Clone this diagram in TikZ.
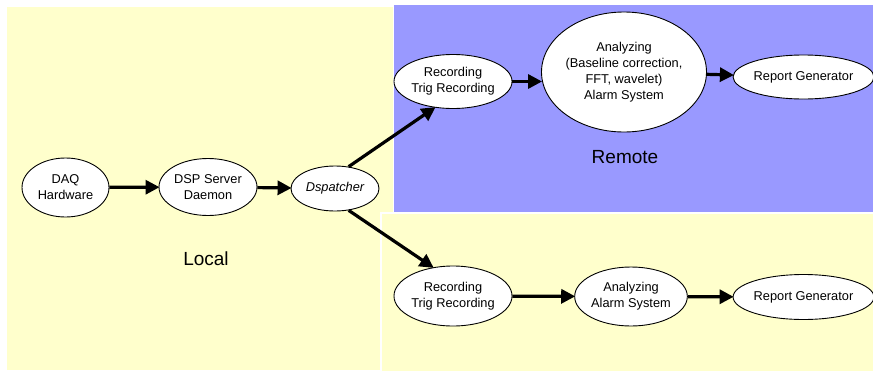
\documentclass[tikz,border=0pt]{standalone}
\usepackage{fontspec}
\setmainfont{Liberation Sans}
\usetikzlibrary{shapes.geometric,arrows.meta}
\definecolor{paleyellow}{HTML}{FFFFCC}
\definecolor{remoteblue}{HTML}{9999FF}
\tikzset{
  proc/.style={ellipse,draw=black,line width=0.9pt,fill=white,inner sep=0pt,align=center,
    font=\fontsize{12.8}{16}\selectfont},
  flow/.style={line width=3.2pt,-{Triangle[length=14pt,width=14pt]},shorten >=-1pt},
  zone/.style={font=\fontsize{19}{22}\selectfont}
}
\begin{document}
\begin{tikzpicture}[x=1pt,y=-1pt]
\useasboundingbox (0,0) rectangle (873,370);
\fill[white] (0,0) rectangle (873,370);
% regions
\fill[paleyellow] (7,7) rectangle (393,370);
\fill[remoteblue] (394,5) rectangle (873,212);
\fill[paleyellow,draw=white,line width=1.5pt] (381,213) rectangle (875,372);
% labels
\node[zone] (local) at (206,259) {Local};
\node[zone] (remote) at (625,157) {Remote};
% nodes
\node[proc,minimum width=87pt,minimum height=59pt] (daq) at (65.5,187.5) {DAQ\\Hardware};
\node[proc,minimum width=98pt,minimum height=57pt] (dsp) at (208,187) {DSP Server\\Daemon};
\node[proc,minimum width=88pt,minimum height=45pt] (disp) at (335,188.5) {\itshape Dspatcher};
\node[proc,minimum width=114pt,minimum height=54pt] (recr) at (453,81.5) {Recording\\Trig Recording};
\node[proc,minimum width=148pt,minimum height=120pt] (anar) at (624,72) {Analyzing\\(Baseline correction,\\FFT, wavelet)\\Alarm System};
\node[proc,minimum width=131pt,minimum height=44pt] (repr) at (803.5,77) {Report Generator};
\node[proc,minimum width=114pt,minimum height=60pt] (recl) at (453,296) {Recording\\Trig Recording};
\node[proc,minimum width=110pt,minimum height=59pt] (anal) at (631,296.5) {Analyzing\\Alarm System};
\node[proc,minimum width=131pt,minimum height=45pt] (repl) at (803.5,297) {Report Generator};
% connectors
\draw[flow] (daq) -- (dsp);
\draw[flow] (dsp) -- (disp);
\draw[flow] (disp.58) -- (recr.235);
\draw[flow] (disp.302) -- (recl.125);
\draw[flow] (recr.east) -- (anar.west |- recr.east);
\draw[flow] (anar) -- (repr);
\draw[flow] (recl) -- (anal);
\draw[flow] (anal) -- (repl);
\end{tikzpicture}
\end{document}
